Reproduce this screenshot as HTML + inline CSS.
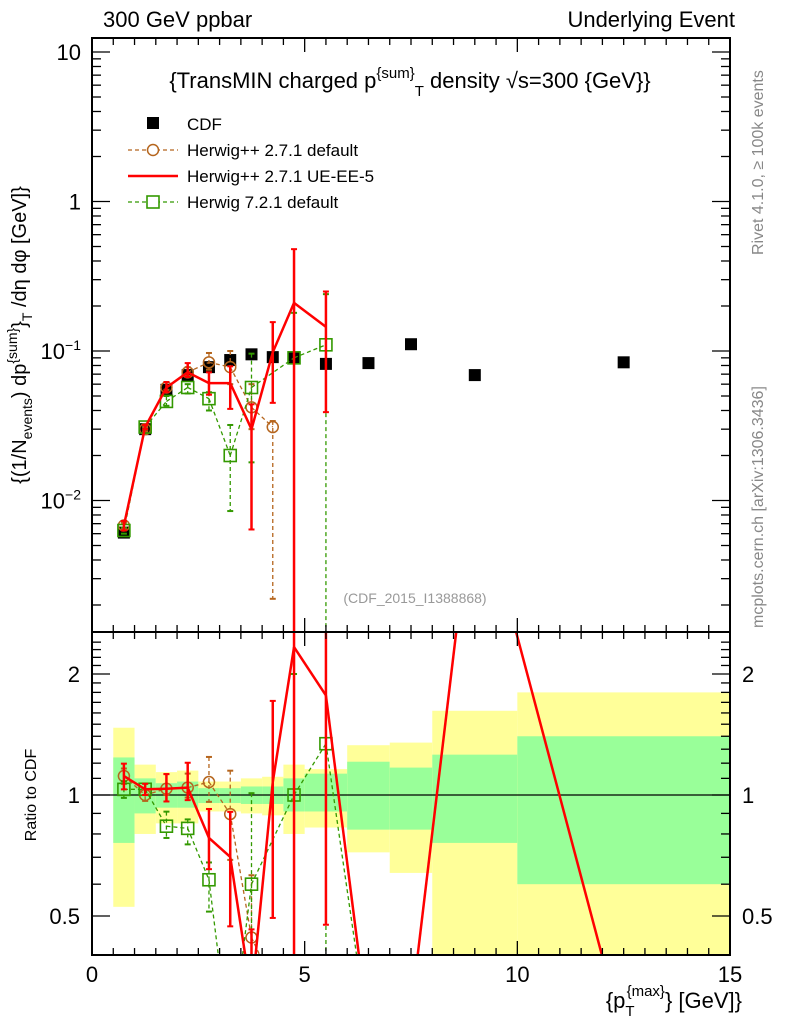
<!DOCTYPE html>
<html><head><meta charset="utf-8"><style>
html,body{margin:0;background:#fff;width:786px;height:1024px;overflow:hidden;position:relative;}
svg{display:block;position:absolute;left:0;top:0;font-family:"Liberation Sans",sans-serif;}
</style></head><body>
<svg id="chart" width="786" height="1024" xmlns="http://www.w3.org/2000/svg"></svg>
<script>
const xCenters=[0.75,1.25,1.75,2.25,2.75,3.25,3.75,4.25,4.75,5.5,6.5,7.5,9,12.5];
const binEdges=[0.5,1,1.5,2,2.5,3,3.5,4,4.5,5,6,7,8,10,15];
const cdfVals=[0.0061,0.030,0.055,0.069,0.078,0.087,0.095,0.091,0.090,0.082,0.083,0.111,0.069,0.084];
const statHi=[1.24,1.10,1.07,1.08,1.04,1.04,1.05,1.05,1.10,1.13,1.21,1.17,1.26,1.40];
const statLo=[0.76,0.90,0.93,0.93,0.955,0.955,0.95,0.95,0.91,0.91,0.82,0.82,0.76,0.60];
const totHi=[1.47,1.19,1.14,1.15,1.08,1.08,1.10,1.11,1.19,1.16,1.33,1.35,1.62,1.80];
const totLo=[0.527,0.80,0.85,0.85,0.91,0.91,0.90,0.89,0.80,0.83,0.72,0.64,0.3,0.3];
const hppX=[0.75,1.25,1.75,2.25,2.75,3.25,3.75,4.25];
const hppVals=[0.0068,0.030,0.057,0.072,0.084,0.078,0.042,0.031];
const hppHi=[0.0071,0.031,0.062,0.078,0.097,0.100,0.060,0.034];
const hppLo=[0.0065,0.029,0.055,0.068,0.075,0.060,0.030,0.0022];
const ueX=[0.75,1.25,1.75,2.25,2.75,3.25,3.75,4.25,4.75,5.5];
const ueVals=[0.0068,0.031,0.057,0.072,0.061,0.061,0.030,0.098,0.21,0.145];
const ueHi=[0.0073,0.032,0.062,0.083,0.072,0.079,0.044,0.156,0.48,0.25];
const ueLo=[0.0063,0.030,0.053,0.067,0.051,0.041,0.0064,0.045,0.00001,0.039];
const ueTailX=[6.5,7.5,9,12.5];
const ueTailRatio=[0.26,0.29,6.2,0.25];
const h7X=[0.75,1.25,1.75,2.25,2.75,3.25,3.75,4.75,5.5];
const h7Vals=[0.0063,0.031,0.046,0.057,0.048,0.020,0.057,0.090,0.11];
const h7Hi=[0.0066,0.032,0.050,0.060,0.053,0.032,0.096,0.18,0.24];
const h7Lo=[0.0060,0.030,0.043,0.052,0.040,0.0085,0.018,0.00001,0.00001];
const h7TailX=[6.5];
const h7TailRatio=[0.25];

const NS="http://www.w3.org/2000/svg";
const svg=document.getElementById('chart');
const L=92,R=730,MT=38,MB=632,RT=632,RB=955;
const X=v=>L+(R-L)*v/15;
const Y=v=>351-149.5*Math.log10(v/0.1);
const YR=v=>795-402*Math.log10(v);
const clamp=(v,a,b)=>Math.max(a,Math.min(b,v));
function el(t,a,p){const e=document.createElementNS(NS,t);for(const k in a)e.setAttribute(k,a[k]);(p||svg).appendChild(e);return e;}
function txt(x,y,s,a,p){const e=el('text',Object.assign({x:x,y:y,'font-size':18},a||{}),p);e.innerHTML=s;return e;}

const defs=el('defs',{});
const c1=el('clipPath',{id:'cm'},defs);el('rect',{x:L,y:MT,width:R-L,height:MB-MT},c1);
const c2=el('clipPath',{id:'cr'},defs);el('rect',{x:L,y:RT,width:R-L,height:RB-RT},c2);
const gm=el('g',{'clip-path':'url(#cm)'});


const gr=el('g',{'clip-path':'url(#cr)'});



for(let i=0;i<xCenters.length;i++){
  const x0=X(binEdges[i]),x1=X(binEdges[i+1]);
  const t0=clamp(YR(totHi[i]),RT,RB),t1=clamp(YR(totLo[i]),RT,RB);
  const yb=el('rect',{x:x0,y:t0,width:x1-x0,height:t1-t0,fill:'#ffff99'},gr);
  
  
  const gb=el('rect',{x:x0,y:YR(statHi[i]),width:x1-x0,height:YR(statLo[i])-YR(statHi[i]),fill:'#99ff99'},gr);
  
  
}
const ul=el('line',{x1:L,x2:R,y1:YR(1),y2:YR(1),stroke:'#000','stroke-width':1.2},gr);



function cdfAt(x){return cdfVals[xCenters.indexOf(x)];}

function clipPts(xs,ys,top,bot){
  // clip polyline segments to vertical band [top,bot]
  const segs=[];
  for(let i=0;i<xs.length-1;i++){
    let x0=xs[i],y0=ys[i],x1=xs[i+1],y1=ys[i+1];
    if((y0<top&&y1<top)||(y0>bot&&y1>bot))continue;
    const f=(yy)=>x0+(x1-x0)*(yy-y0)/(y1-y0);
    if(y0<top){x0=f(top);y0=top;} else if(y0>bot){x0=f(bot);y0=bot;}
    if(y1<top){x1=f(top);y1=top;} else if(y1>bot){x1=f(bot);y1=bot;}
    segs.push([x0,y0,x1,y1]);
  }
  return segs;
}

function series(xs,vals,hi,lo,color,dash,marker,name,tailX,tailR){
  const sw=dash?1.3:2.5;
  clipPts(xs.map(X),xs.map((x,i)=>Y(vals[i])),MT,MB).forEach(s=>{
    const pl=el('line',{x1:s[0],y1:s[1],x2:s[2],y2:s[3],stroke:color,'stroke-width':sw,'stroke-dasharray':dash||'none'},gm);
    
    
  });
  let rx=xs.slice(),rv=xs.map((x,i)=>vals[i]/cdfAt(x));
  if(tailX){rx=rx.concat(tailX);rv=rv.concat(tailR);}
  clipPts(rx.map(X),rv.map(YR),RT,RB).forEach(s=>{
    const rp=el('line',{x1:s[0],y1:s[1],x2:s[2],y2:s[3],stroke:color,'stroke-width':sw,'stroke-dasharray':dash||'none'},gr);
    
    
  });
  xs.forEach((x,i)=>{
    const c=cdfAt(x);
    [[gm,Y(hi[i]),Y(lo[i]),Y(vals[i]),MT,MB],[gr,YR(hi[i]/c),YR(lo[i]/c),YR(vals[i]/c),RT,RB]].forEach(([g,ya,yb,ym,top,bot])=>{
      const a=clamp(ya,top,bot),b=clamp(yb,top,bot);
      if(a!==b){
        const e=el('line',{x1:X(x),x2:X(x),y1:a,y2:b,stroke:color,'stroke-width':sw,'stroke-dasharray':dash||'none'},g);
        
        
      }
      [ya,yb].forEach(yy=>{if(yy>=top&&yy<=bot)el('line',{x1:X(x)-3,x2:X(x)+3,y1:yy,y2:yy,stroke:color,'stroke-width':2},g);});
      if(ym<top-8||ym>bot+8)return;
      let m;
      if(marker==='circle')m=el('circle',{cx:X(x),cy:ym,r:5.5,fill:'none',stroke:color,'stroke-width':1.5},g);
      else if(marker==='square')m=el('rect',{x:X(x)-6,y:ym-6,width:12,height:12,fill:'none',stroke:color,'stroke-width':1.6},g);
      if(m){
        
        
      }
    });
  });
}
xCenters.forEach((x,i)=>{
  const m=el('rect',{x:X(x)-6,y:Y(cdfVals[i])-6,width:12,height:12,fill:'#000'},gm);
  
  
});
series(hppX,hppVals,hppHi,hppLo,'#b5651d','4,3','circle','herwigpp-default');
series(h7X,h7Vals,h7Hi,h7Lo,'#339900','4,3','square','herwig7-default',h7TailX,h7TailRatio);
series(ueX,ueVals,ueHi,ueLo,'#ff0000',null,'none','herwigpp-ue-ee-5',ueTailX,ueTailRatio);

[[MT,MB,'main-frame'],[RT,RB,'ratio-frame']].forEach(([t,b,n])=>{
  const f=el('rect',{x:L,y:t,width:R-L,height:b-t,fill:'none',stroke:'#000','stroke-width':2});
  
  
});
for(let v=0;v<=15;v+=0.5){
  const maj=v%5===0,len=maj?14:7;
  [[MT,1],[MB,-1],[RT,1],[RB,-1]].forEach(([y,d])=>el('line',{x1:X(v),x2:X(v),y1:y,y2:y+d*len,stroke:'#000','stroke-width':1.3}));
}
const xTickLabels=['0','5','10','15'];
xTickLabels.forEach((s,i)=>{
  const t=txt(X(i*5),982,s,{'text-anchor':'middle','font-size':22});
  
  
});
for(let d=-3;d<=1;d++){for(let k=1;k<=9;k++){const v=k*Math.pow(10,d);const y=Y(v);if(y<MT||y>MB)continue;const len=k===1?18:9;
  el('line',{x1:L,x2:L+len,y1:y,y2:y,stroke:'#000','stroke-width':1.3});el('line',{x1:R,x2:R-len,y1:y,y2:y,stroke:'#000','stroke-width':1.3});}}
const yTickLabels=['10','1','10<tspan dy="-9" font-size="14">−1</tspan>','10<tspan dy="-9" font-size="14">−2</tspan>'];
const yTickVals=[10,1,0.1,0.01];
yTickLabels.forEach((s,i)=>{
  const t=txt(81,Y(yTickVals[i])+8,s,{'text-anchor':'end','font-size':22});
  
  
});
for(let v=0.4;v<=2.5;v+=0.1){const y=YR(v);const maj=[0.5,1,2].some(m=>Math.abs(m-v)<1e-6);const len=maj?18:9;
  el('line',{x1:L,x2:L+len,y1:y,y2:y,stroke:'#000','stroke-width':1.3});el('line',{x1:R,x2:R-len,y1:y,y2:y,stroke:'#000','stroke-width':1.3});}
const rTickLabels=['2','1','0.5'];const rTickVals=[2,1,0.5];
rTickLabels.forEach((s,i)=>{
  const a=txt(80,YR(rTickVals[i])+8,s,{'text-anchor':'end','font-size':22});
  
  
  const b=txt(742,YR(rTickVals[i])+8,s,{'font-size':22});
  
  
});
</script>
<svg width="786" height="1024" xmlns="http://www.w3.org/2000/svg" font-family="Liberation Sans, sans-serif">
<text x="103" y="27" font-size="22">300 GeV ppbar</text>
<text x="735" y="27" font-size="22" text-anchor="end">Underlying Event</text>
<text x="410" y="88" font-size="22" text-anchor="middle">{TransMIN charged p<tspan dy="-10" font-size="15">{sum}</tspan><tspan dy="18" font-size="15">T</tspan><tspan dy="-8"> density √s=300 {GeV}}</tspan></text>
<g font-size="17">
<rect x="147" y="117" width="12" height="12" fill="#000"/>
<text x="187" y="130">CDF</text>
<line x1="128" x2="178" y1="150" y2="150" stroke="#b5651d" stroke-width="1.3" stroke-dasharray="4,3"/>
<circle cx="153" cy="150" r="5.5" fill="#fff" stroke="#b5651d" stroke-width="1.5"/>
<text x="187" y="156">Herwig++ 2.7.1 default</text>
<line x1="128" x2="178" y1="176" y2="176" stroke="#ff0000" stroke-width="2.5"/>
<text x="187" y="182">Herwig++ 2.7.1 UE-EE-5</text>
<line x1="128" x2="178" y1="202" y2="202" stroke="#339900" stroke-width="1.3" stroke-dasharray="4,3"/>
<rect x="147" y="196" width="12" height="12" fill="#fff" stroke="#339900" stroke-width="1.6"/>
<text x="187" y="208">Herwig 7.2.1 default</text>
</g>
<text x="415" y="603" font-size="14" fill="#999" text-anchor="middle">(CDF_2015_I1388868)</text>
<text transform="translate(763,255) rotate(-90)" font-size="16" fill="#888">Rivet 4.1.0, ≥ 100k events</text>
<text transform="translate(763,628) rotate(-90)" font-size="16" fill="#888">mcplots.cern.ch [arXiv:1306.3436]</text>
<text transform="translate(26,335) rotate(-90)" font-size="20" text-anchor="middle">{(1/N<tspan dy="6" font-size="14">events</tspan><tspan dy="-6">) dp</tspan><tspan dy="-9" font-size="14">{sum}</tspan><tspan dy="9">}</tspan><tspan dy="6" font-size="14">T</tspan><tspan dy="-6"> /dη  dφ [GeV]}</tspan></text>
<text transform="translate(36,795) rotate(-90)" font-size="16" text-anchor="middle">Ratio to CDF</text>
<text x="742" y="1008" font-size="22" text-anchor="end">{p<tspan dy="8" font-size="15">T</tspan><tspan dy="-20" font-size="15" dx="-8">{max}</tspan><tspan dy="12">} [GeV]}</tspan></text>
</svg>
</body></html>
